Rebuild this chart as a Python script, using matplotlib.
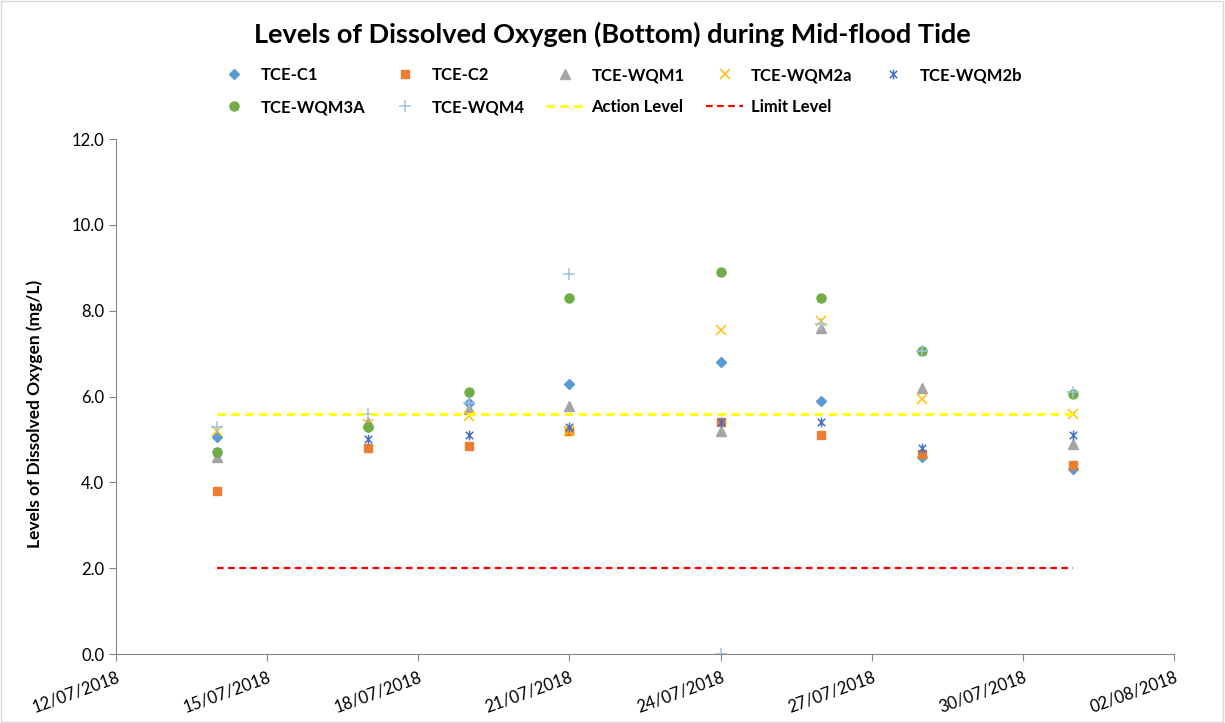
import numpy as np
import pandas as pd
import matplotlib
matplotlib.use("Agg")
import matplotlib.pyplot as plt
from matplotlib.path import Path
from matplotlib.patches import Rectangle

plt.rcParams['font.family'] = ['Lato', 'DejaVu Sans']

dates = pd.to_datetime(['2018-07-14', '2018-07-17', '2018-07-19', '2018-07-21',
                        '2018-07-24', '2018-07-26', '2018-07-28', '2018-07-31'], format='%Y-%m-%d')

c1 = [5.05, 5.3, 5.85, 6.3, 6.8, 5.9, 4.6, 4.3]
c2 = [3.8, 4.8, 4.85, 5.2, 5.4, 5.1, 4.65, 4.4]
wqm1 = [4.6, 5.4, 5.7, 5.78, 5.2, 7.6, 6.2, 4.9]
wqm2a = [5.2, 5.35, 5.55, 5.2, 7.55, 7.75, 5.95, 5.6]
wqm2b = [4.7, 5.0, 5.1, 5.3, 5.4, 5.4, 4.8, 5.1]
wqm3a = [4.7, 5.3, 6.1, 8.3, 8.9, 8.3, 7.05, 6.05]
wqm4 = [5.3, 5.6, 5.85, 8.85, 0.0, 7.7, 7.05, 6.1]
action_level = 5.6
limit_level = 2.0

# excel style "star" marker: an X with a vertical bar
star = Path([(-1, -1), (1, 1), (-1, 1), (1, -1), (0, -1.3), (0, 1.3)],
            [Path.MOVETO, Path.LINETO, Path.MOVETO, Path.LINETO, Path.MOVETO, Path.LINETO])

fig = plt.figure(figsize=(12.25, 7.23), dpi=100)
ax = fig.add_axes([0.0947, 0.0954, 0.8637, 0.7123])

h = {}
h['c1'], = ax.plot(dates, c1, 'D', color='#5B9BD5', ms=5, label='TCE-C1')
h['c2'], = ax.plot(dates, c2, 's', color='#ED7D31', ms=6, label='TCE-C2')
h['wqm1'], = ax.plot(dates, wqm1, '^', color='#A5A5A5', ms=7, label='TCE-WQM1')
h['wqm2a'], = ax.plot(dates, wqm2a, 'x', color='#FFC000', ms=7, mew=1.1, label='TCE-WQM2a')
h['wqm2b'], = ax.plot(dates, wqm2b, ls='none', marker=star, color='#4472C4', ms=7, mew=1.1, label='TCE-WQM2b')
h['wqm3a'], = ax.plot(dates, wqm3a, 'o', color='#70AD47', ms=6.5, label='TCE-WQM3A')
h['wqm4'], = ax.plot(dates, wqm4, '+', color='#9DC3E6', ms=8, mew=1.1, label='TCE-WQM4')
h['act'], = ax.plot([dates[0], dates[-1]], [action_level] * 2, '--', color='#FFFF00', lw=2,
                    dashes=(3, 2), label='Action Level')
h['lim'], = ax.plot([dates[0], dates[-1]], [limit_level] * 2, '--', color='#FF0000', lw=1.6,
                    dashes=(3, 2), label='Limit Level')

ax.set_xlim(pd.Timestamp('2018-07-12'), pd.Timestamp('2018-08-02'))
ax.set_ylim(0, 12)
ax.set_yticks(np.arange(0, 12.1, 2))
ax.set_yticklabels(['%.1f' % v for v in np.arange(0, 12.1, 2)], fontsize=12)
xt = pd.date_range('2018-07-12', '2018-08-02', freq='3D')
ax.set_xticks(xt)
ax.set_xticklabels([d.strftime('%d/%m/%Y') for d in xt], rotation=20, fontsize=12,
                   ha='right', rotation_mode='anchor')

for s in ['top', 'right']:
    ax.spines[s].set_visible(False)
for s in ['left', 'bottom']:
    ax.spines[s].set_color('#868686')
ax.tick_params(axis='both', color='#868686', length=5, direction='out')
ax.tick_params(axis='x', pad=6)

ax.set_ylabel('Levels of Dissolved Oxygen (mg/L)', fontsize=12.5, fontweight='bold')
ax.yaxis.set_label_coords(-0.069, 0.466)

fig.text(0.5, 0.952, 'Levels of Dissolved Oxygen (Bottom) during Mid-flood Tide',
         ha='center', va='center', fontsize=19.5, fontweight='bold')

order = ['c1', 'wqm3a', 'c2', 'wqm4', 'wqm1', 'act', 'wqm2a', 'lim', 'wqm2b']
fig.legend([h[k] for k in order], [h[k].get_label() for k in order],
           loc='center', bbox_to_anchor=(0.505, 0.874), ncol=5, frameon=False,
           prop={'weight': 'bold', 'size': 12}, handlelength=2.2,
           columnspacing=1.3, labelspacing=0.95, handletextpad=0.5)

fig.patches.append(Rectangle((0.001, 0.001), 0.997, 0.997, transform=fig.transFigure,
                             fill=False, edgecolor='#D9D9D9', lw=1))

fig.savefig('out.png', dpi=100)
